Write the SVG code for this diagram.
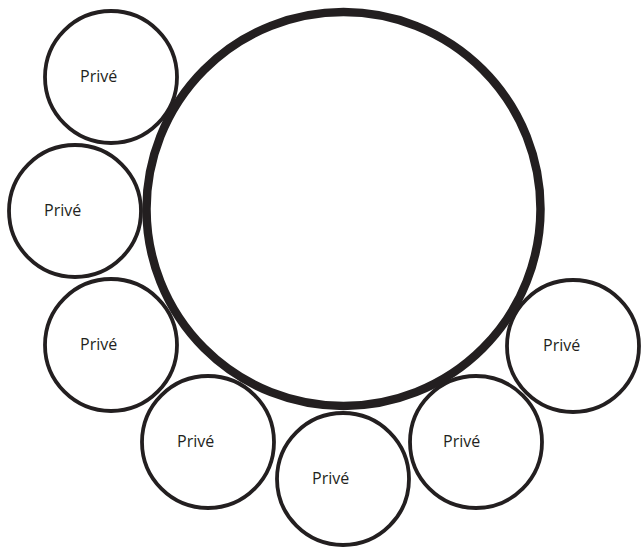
<svg xmlns="http://www.w3.org/2000/svg" width="643" height="547" viewBox="0 0 643 547">
<style>
.s{fill:#fff;stroke:#231f20;stroke-width:3.8}
.b{fill:#fff;stroke:#231f20;stroke-width:8.5}
.t{font-family:"Open Sans","Liberation Sans",sans-serif;font-size:16px;fill:#231f20}
</style>
<rect width="643" height="547" fill="#fff"/>
<g id="n1"><circle class="s" cx="111" cy="77" r="66"/><text class="t" x="80" y="82">Privé</text></g>
<g id="n2"><circle class="s" cx="75" cy="211" r="66"/><text class="t" x="44" y="216">Privé</text></g>
<g id="n3"><circle class="s" cx="111" cy="345" r="66"/><text class="t" x="80" y="350">Privé</text></g>
<g id="n4"><circle class="s" cx="208" cy="442" r="66"/><text class="t" x="177" y="447">Privé</text></g>
<g id="n5"><circle class="s" cx="343" cy="479" r="66"/><text class="t" x="312" y="484">Privé</text></g>
<g id="n6"><circle class="s" cx="476" cy="442" r="66"/><text class="t" x="443" y="447">Privé</text></g>
<g id="n7"><circle class="s" cx="573" cy="346" r="66"/><text class="t" x="543" y="351">Privé</text></g>
<g id="center"><circle class="b" cx="343.5" cy="209" r="197"/></g>
<g id="connectors"/>
</svg>
